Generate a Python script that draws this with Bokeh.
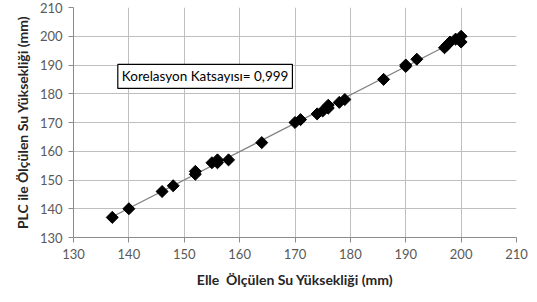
import numpy as np
from bokeh.plotting import figure
from bokeh.models import ColumnDataSource, Label, FixedTicker, Range1d
from bokeh.embed import file_html
from bokeh.resources import INLINE

# Manually measured (x) vs PLC measured (y) water height, mm
elle_mm = [137, 140, 146, 148, 152, 152, 155, 156, 156, 158, 164, 170, 171,
           174, 175, 176, 176, 178, 179, 186, 190, 190, 192, 197, 197.5, 198,
           199, 200, 200]
plc_mm = [137, 140, 146, 148, 152, 153, 156, 156, 157, 157, 163, 170, 171,
          173, 174, 175, 176, 177, 178, 185, 189.5, 190, 192, 196, 197, 198,
          199, 200, 198]
ticks = [130, 140, 150, 160, 170, 180, 190, 200, 210]
note_text = "Korelasyon Katsayısı= 0,999"

FONT = "Lato"

p = figure(width=537, height=302, output_backend="svg", toolbar_location=None,
           x_range=Range1d(130, 210), y_range=Range1d(130, 210),
           min_border_left=73, min_border_right=21, min_border_top=7,
           min_border_bottom=65)
p.outline_line_color = None
p.background_fill_color = "white"
p.border_fill_color = "white"

for ax in (p.xaxis[0], p.yaxis[0]):
    ax.ticker = FixedTicker(ticks=ticks)
    ax.minor_tick_line_color = None
    ax.major_tick_in = 0
    ax.major_tick_out = 5
    ax.major_tick_line_color = "#8c8c8c"
    ax.axis_line_color = "#8c8c8c"
    ax.major_label_text_font = FONT
    ax.major_label_text_font_size = "13px"
    ax.major_label_text_color = "#595959"
    ax.axis_label_text_font = FONT
    ax.axis_label_text_font_style = "bold"
    ax.axis_label_text_font_size = "14px"
    ax.axis_label_text_color = "#262626"

p.xaxis.axis_label = "Elle\u00a0 Ölçülen Su Yüksekliği (mm)"
p.yaxis.axis_label = "PLC ile Ölçülen Su Yüksekliği (mm)"
p.xaxis.major_label_standoff = 6
p.xaxis.axis_label_standoff = 9
p.yaxis.major_label_standoff = 6
p.yaxis.axis_label_standoff = 6

p.xgrid.ticker = FixedTicker(ticks=ticks)
p.ygrid.ticker = FixedTicker(ticks=ticks)
p.grid.grid_line_color = "#bfbfbf"
p.grid.grid_line_width = 1

# linear trendline from data
xa = np.array(elle_mm, dtype=float)
ya = np.array(plc_mm, dtype=float)
m, b = np.polyfit(xa, ya, 1)
tx = np.array([xa.min(), xa.max()])
p.line(tx, m * tx + b, line_color="#808080", line_width=1.2)

src = ColumnDataSource(dict(x=elle_mm, y=plc_mm))
p.scatter("x", "y", source=src, marker="square", angle=np.pi / 4, size=8.5,
          fill_color="black", line_color="black")

lab = Label(x=138.0, y=190.2, text=note_text, text_font=FONT,
            text_font_size="13.5px", text_color="black", text_baseline="top",
            text_align="left", padding=4,
            border_line_color="black", border_line_width=1.2,
            background_fill_color="white")
p.add_layout(lab)

open("out.html", "w").write(file_html(p, INLINE))
